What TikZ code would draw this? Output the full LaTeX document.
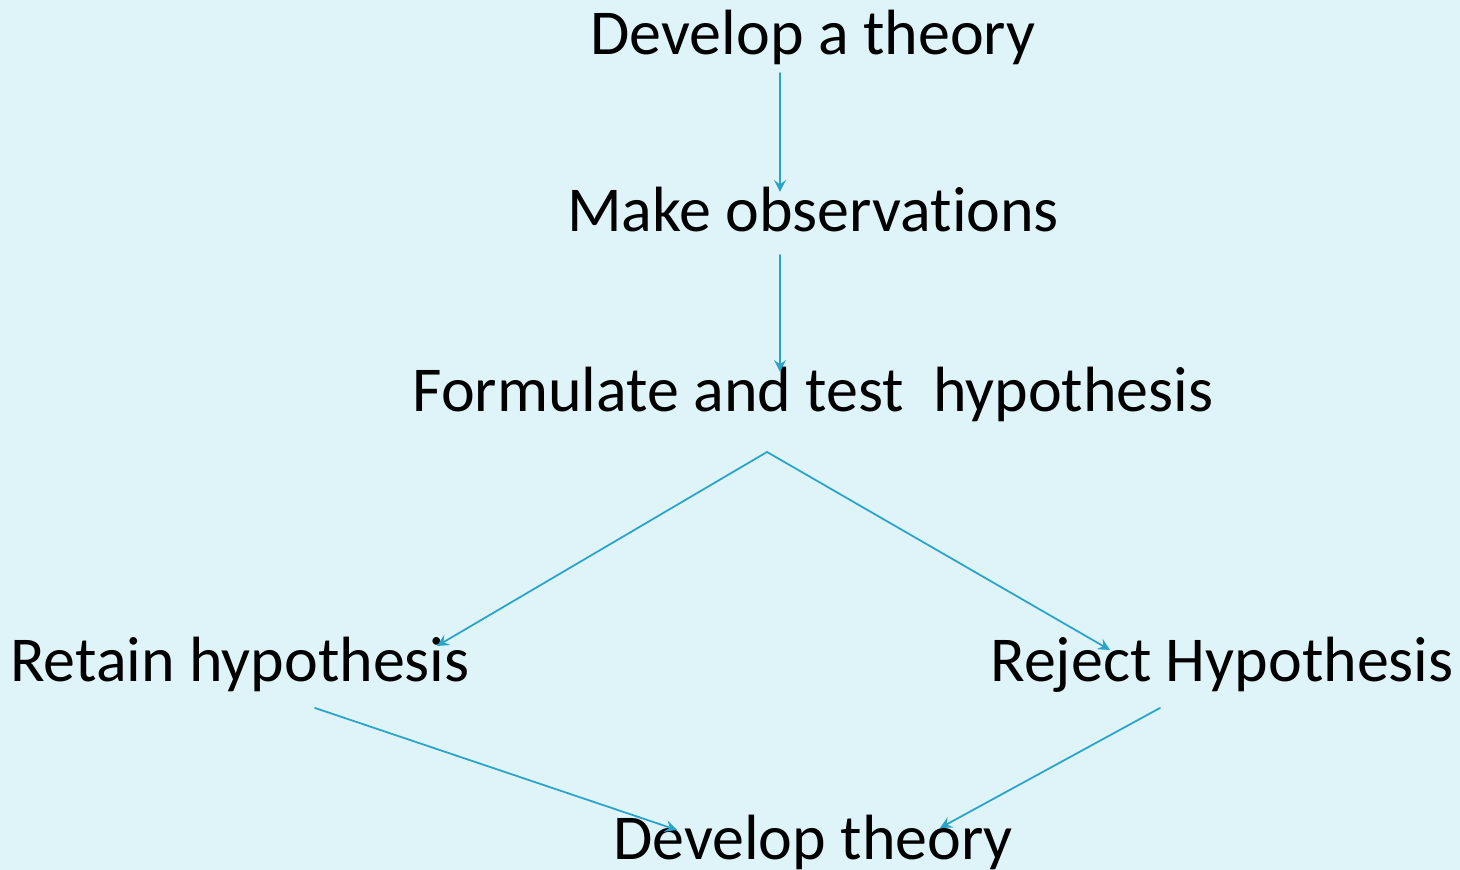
\documentclass[tikz,border=0pt]{standalone}
\usepackage{fontspec}
\setmainfont{Carlito}[Ligatures=NoCommon]
\definecolor{bgsky}{RGB}{222,244,249}
\definecolor{arrowblue}{RGB}{42,163,201}
\begin{document}
\begin{tikzpicture}[font=\fontsize{18.2}{22}\selectfont, line join=round, line cap=round, >=stealth]
	\tikzset{step text/.style={anchor=base, inner sep=0pt}, flow/.style={->, draw=arrowblue, line width=0.5pt}}
	\useasboundingbox (0,0) rectangle (14.6,8.7);
	\fill[bgsky] (0,0) rectangle (14.6,8.7);
	\clip (0,0) rectangle (14.6,8.7);
	% the steps
	\node[step text] (theory) at (8.13,8.15) {Develop a theory};
	\node[step text] (observe) at (8.13,6.38) {Make observations};
	\node[step text] (formulate) at (8.13,4.58) {Formulate and test~~hypothesis};
	\node[step text] (retain) at (2.40,1.88) {Retain hypothesis};
	\node[step text] (reject) at (12.22,1.88) {Reject Hypothesis};
	\node[step text] (develop) at (8.13,0.10) {Develop theory};
	% arrow ends
	\coordinate (theoryout) at (7.80,7.97);
	\coordinate (observein) at (7.80,6.78);
	\coordinate (observeout) at (7.80,6.15);
	\coordinate (formulatein) at (7.80,4.98);
	\coordinate (split) at (7.67,4.18);
	\coordinate (retainin) at (4.37,2.24);
	\coordinate (rejectin) at (11.10,2.20);
	\coordinate (retainout) at (3.15,1.62);
	\coordinate (rejectout) at (11.60,1.62);
	\coordinate (developleft) at (6.77,0.40);
	\coordinate (developright) at (9.40,0.42);
	\draw[flow] (theoryout)--(observein);
	\draw[flow] (observeout)--(formulatein);
	\draw[flow] (split)--(retainin);
	\draw[flow] (split)--(rejectin);
	\draw[flow] (retainout)--(developleft);
	\draw[flow] (rejectout)--(developright);
\end{tikzpicture}
\end{document}
